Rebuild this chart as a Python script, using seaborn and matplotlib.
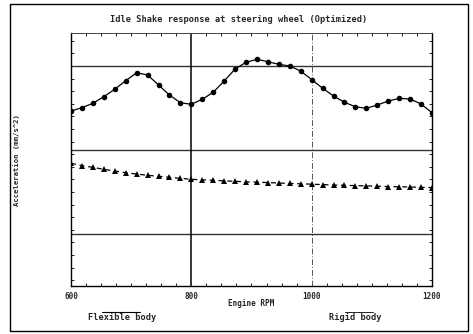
import numpy as np
import pandas as pd
import matplotlib
matplotlib.use("Agg")
import matplotlib.pyplot as plt
import seaborn as sns
from matplotlib.patches import Rectangle
from matplotlib.lines import Line2D
from matplotlib.ticker import MultipleLocator, AutoMinorLocator

# ---- data ----
rpm = [600.0, 618.2, 636.4, 654.5, 672.7, 690.9, 709.1, 727.3, 745.5, 763.6,
       781.8, 800.0, 818.2, 836.4, 854.5, 872.7, 890.9, 909.1, 927.3, 945.5,
       963.6, 981.8, 1000.0, 1018.2, 1036.4, 1054.5, 1072.7, 1090.9, 1109.1,
       1127.3, 1145.5, 1163.6, 1181.8, 1200.0]
flexible = [2.464, 2.504, 2.556, 2.635, 2.723, 2.825, 2.920, 2.893, 2.774, 2.655,
            2.563, 2.544, 2.604, 2.687, 2.821, 2.964, 3.044, 3.080, 3.051, 3.020,
            3.000, 2.940, 2.839, 2.735, 2.643, 2.568, 2.515, 2.496, 2.536, 2.583,
            2.615, 2.607, 2.548, 2.444]
rigid = [1.842, 1.813, 1.794, 1.770, 1.750, 1.730, 1.714, 1.699, 1.687, 1.675,
         1.663, 1.651, 1.645, 1.639, 1.633, 1.627, 1.621, 1.617, 1.612, 1.607,
         1.602, 1.598, 1.593, 1.588, 1.583, 1.580, 1.576, 1.573, 1.569, 1.565,
         1.562, 1.560, 1.556, 1.552]
x_ticks = [600, 800, 1000, 1200]
x_tick_labels = ["600", "800", "1000", "1200"]
grid_levels = [1, 2, 3]

title = "Idle Shake response at steering wheel (Optimized)"
xlabel = "Engine RPM"
ylabel = "Acceleration (mm/s^2)"

df = pd.DataFrame({"rpm": rpm, "flexible": flexible, "rigid": rigid})

sns.set_theme(style="white")
plt.rcParams["font.family"] = ["DejaVu Sans Mono", "DejaVu Sans"]

fig = plt.figure(figsize=(4.73, 3.34), dpi=100)
ax = fig.add_axes([0.1501, 0.1437, 0.9133 - 0.1501, 0.9012 - 0.1437])

# gridlines
for g in grid_levels:
    ax.axhline(g, color="#333333", lw=1.0, zorder=1)
ax.axvline(800, color="black", lw=1.1, zorder=1)
ax.axvline(1000, color="#555555", lw=0.7, ls=(0, (6, 2, 1, 2)), zorder=1)

sns.lineplot(data=df, x="rpm", y="flexible", ax=ax, color="black", lw=0.9,
             marker="o", markersize=4, markeredgewidth=0, zorder=3)
sns.lineplot(data=df, x="rpm", y="rigid", ax=ax, color="black", lw=0.9,
             linestyle=(0, (4, 3)), marker="^", markersize=3.8,
             markeredgewidth=0, zorder=3)

ax.set_xlim(600, 1200)
ax.set_ylim(0.381, 3.393)
ax.set_xticks(x_ticks)
ax.set_xticklabels(x_tick_labels, fontsize=5.5, fontweight="bold")
ax.set_yticks([])
ax.xaxis.set_minor_locator(MultipleLocator(25))
ax.yaxis.set_minor_locator(MultipleLocator(0.15))
ax.tick_params(axis="x", which="major", length=0, pad=4)
ax.tick_params(which="minor", direction="in", length=2, width=0.6,
               left=True, right=True, bottom=True, top=True, color="black")
ax.set_xlabel(xlabel, fontsize=5.5, fontweight="bold", labelpad=-1)
ax.set_ylabel("")
for s in ["left", "right", "bottom"]:
    ax.spines[s].set_color("black")
    ax.spines[s].set_linewidth(1.0)
ax.spines["top"].set_color("#444444")
ax.spines["top"].set_linewidth(0.7)

fig.text(239 / 473, 1 - 20 / 334, title, ha="center", va="center",
         fontsize=6.2, fontweight="bold")
fig.text(17 / 473, 1 - 160 / 334, ylabel, ha="center", va="center",
         rotation=90, fontsize=5.2, fontweight="bold")
fig.text(122 / 473, 1 - 317 / 334, "Flexible body", ha="center", va="center",
         fontsize=6.2, fontweight="bold")
fig.text(355 / 473, 1 - 317 / 334, "Rigid body", ha="center", va="center",
         fontsize=6.2, fontweight="bold")
# small overline marks above the labels
fig.add_artist(Line2D([102 / 473, 140 / 473], [1 - 312 / 334] * 2,
                      color="black", lw=0.8))
fig.add_artist(Line2D([345 / 473, 373 / 473], [1 - 312 / 334] * 2,
                      color="black", lw=0.6))

# outer frame
fig.add_artist(Rectangle((10 / 473, 1 - 331 / 334), 458 / 473, 327 / 334,
                         fill=False, edgecolor="black", lw=1.0,
                         transform=fig.transFigure))

fig.savefig("out.png", dpi=100)
